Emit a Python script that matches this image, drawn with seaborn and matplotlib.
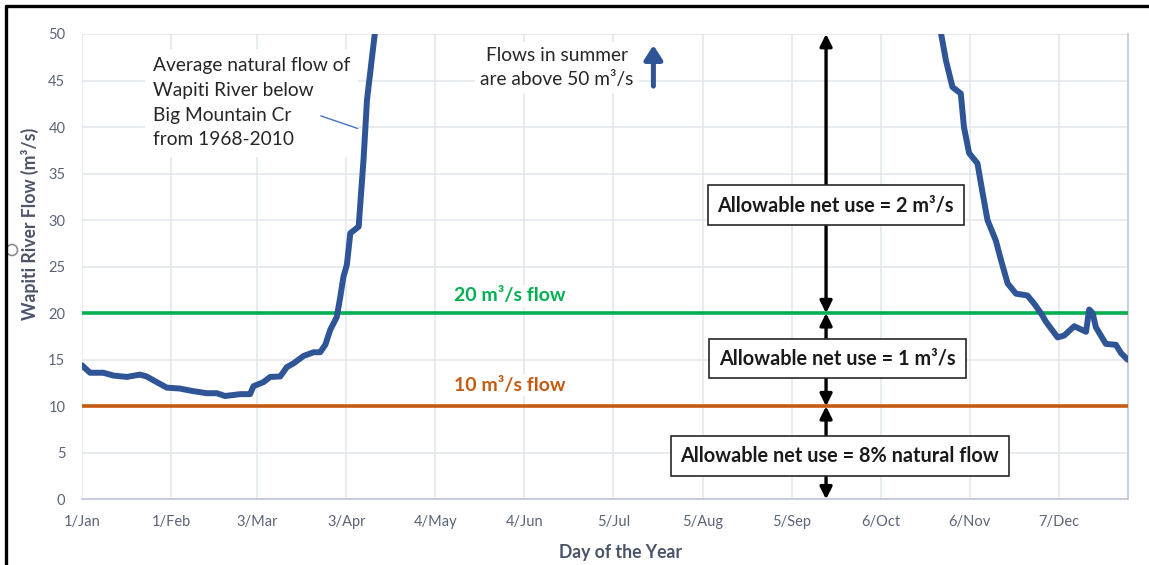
import matplotlib
matplotlib.use("Agg")
import matplotlib.pyplot as plt
from matplotlib.lines import Line2D
from matplotlib.patches import Ellipse
import seaborn as sns
import pandas as pd

# ---------------- data ----------------
day = [1, 3.8, 8.4, 11.9, 16.6, 21.2, 23.5, 25.8, 30.5, 35.1, 39.2, 44.4, 47.9, 50.8,
       56.1, 59.5, 60.7, 64.2, 66.5, 70, 72.3, 74.6, 78.1, 81.6, 83.9, 85.7, 87.4,
       89.7, 90.9, 92.0, 93.2, 94.4, 97.3, 99.0, 100.2, 101.3, 103.1,
       106, 120, 140, 160, 180, 200, 230, 260, 285, 298,
       300, 301.7, 304, 306.9, 308, 309.8, 312.7, 314.5, 316.2, 319.1, 320.9, 323.2,
       326.1, 330.1, 332.5, 334.8, 336.5, 340.6, 342.9, 346.4, 350.5, 351.6, 352.8,
       353.9, 357.4, 360.9, 362.7, 365]
flow = [14.4, 13.6, 13.6, 13.3, 13.15, 13.4, 13.2, 12.8, 12.0, 11.9, 11.65, 11.4, 11.4, 11.1,
        11.3, 11.3, 12.15, 12.6, 13.15, 13.2, 14.2, 14.6, 15.4, 15.8, 15.8, 16.6, 18.2,
        19.6, 21.75, 23.9, 25.2, 28.6, 29.3, 36.5, 42.9, 45.8, 50.5,
        58, 95, 150, 165, 130, 95, 70, 60, 57, 52,
        50.1, 47.2, 44.3, 43.6, 40.0, 37.2, 36.1, 32.9, 30.0, 27.8, 25.7, 23.2,
        22.1, 21.9, 21.0, 20.0, 19.1, 17.4, 17.6, 18.6, 18.0, 20.4, 20.0,
        18.5, 16.7, 16.6, 15.7, 15.0]

tick_days = [1, 32, 62, 93, 124, 155, 186, 217, 248, 279, 310, 341]
tick_labels = ["1/Jan", "1/Feb", "3/Mar", "3/Apr", "4/May", "4/Jun", "5/Jul",
               "5/Aug", "5/Sep", "6/Oct", "6/Nov", "7/Dec"]
y_ticks = [0, 5, 10, 15, 20, 25, 30, 35, 40, 45, 50]

threshold_high = 20
threshold_low = 10
box_labels = ["Allowable net use = 2 m³/s",
              "Allowable net use = 1 m³/s",
              "Allowable net use = 8% natural flow"]

# ---------------- style ----------------
sns.set_theme(style="whitegrid")
plt.rcParams["font.family"] = ["Lato", "DejaVu Sans"]

BLUE = "#2F5597"
GREEN = "#00B050"
ORANGE = "#C55A11"
GRID = "#E1E5EC"
TICK = "#5B6478"
LABEL = "#4A5468"

fig = plt.figure(figsize=(11.49, 5.65), dpi=100)
ax = fig.add_axes([82 / 1149, 1 - 499.3 / 565, (1127.7 - 82) / 1149, (499.3 - 34) / 565])

df = pd.DataFrame({"day": day, "flow": flow})
sns.lineplot(data=df, x="day", y="flow", ax=ax, color=BLUE, linewidth=4.3,
             zorder=5, solid_joinstyle="round")

ax.axhline(threshold_high, color=GREEN, lw=2.6, zorder=4)
ax.axhline(threshold_low, color=ORANGE, lw=2.6, zorder=4)

ax.set_xlim(1, 365)
ax.set_ylim(0, 50)
ax.set_xticks(tick_days)
ax.set_xticklabels(tick_labels)
ax.set_yticks(y_ticks)
ax.tick_params(axis="both", length=0, labelsize=10.5, colors=TICK)
ax.tick_params(axis="x", pad=11)
ax.tick_params(axis="y", pad=12)
ax.grid(True, color=GRID, lw=1.1)
for side in ["left", "top"]:
    ax.spines[side].set_visible(False)
for side in ["bottom", "right"]:
    ax.spines[side].set_visible(True)
    ax.spines[side].set_color("#C0C7D4")
    ax.spines[side].set_linewidth(1.2)

ax.set_xlabel("Day of the Year", fontsize=12.7, fontweight="bold", color=LABEL)
ax.set_ylabel("Wapiti River Flow (m³/s)", fontsize=12.7, fontweight="bold", color=LABEL)
ax.xaxis.set_label_coords(0.5145, -0.097)
ax.yaxis.set_label_coords(-0.041, 0.593)

# ---------------- annotations ----------------
ax.text(25.7, 42.6, "Average natural flow of\nWapiti River below\nBig Mountain Cr\nfrom 1968-2010",
        ha="left", va="center", fontsize=13.8, color="#262626", linespacing=1.55, zorder=6,
        bbox=dict(facecolor="white", edgecolor="none", pad=6))
ax.annotate("", xy=(97.9, 39.75), xytext=(83.2, 41.3),
            arrowprops=dict(arrowstyle="-", color="#4472C4", lw=1), zorder=6)

ax.text(166.3, 46.4, "Flows in summer\nare above 50 m³/s", ha="center", va="center",
        fontsize=13.8, color="#262626", linespacing=1.45, zorder=6,
        bbox=dict(facecolor="white", edgecolor="none", pad=4))
ax.annotate("", xy=(199.9, 48.8), xytext=(199.9, 44.4),
            arrowprops=dict(arrowstyle="-|>,head_length=0.7,head_width=0.45",
                            color=BLUE, lw=3.6, shrinkA=0, shrinkB=0), zorder=6)

ax.text(150, 21.85, "20 m³/s flow", ha="center", va="center", fontsize=14,
        fontweight="bold", color=GREEN, zorder=6,
        bbox=dict(facecolor="white", edgecolor="none", pad=2))
ax.text(150, 12.28, "10 m³/s flow", ha="center", va="center", fontsize=14,
        fontweight="bold", color=ORANGE, zorder=6,
        bbox=dict(facecolor="white", edgecolor="none", pad=2))

arrow_x = 260
for y0, y1 in [(50, threshold_high), (threshold_high, threshold_low), (threshold_low, 0)]:
    ax.annotate("", xy=(arrow_x, y1), xytext=(arrow_x, y0),
                arrowprops=dict(arrowstyle="<|-|>,head_length=0.6,head_width=0.3",
                                color="black", lw=2.4, shrinkA=0, shrinkB=0),
                zorder=7, annotation_clip=False)

box_pos = [(263.4, 31.6), (263.9, 15.13), (264.8, 4.63)]
for (bx, by), lab in zip(box_pos, box_labels):
    ax.text(bx, by, lab, ha="center", va="center", fontsize=14.3, fontweight="bold",
            color="#1a1a1a", zorder=8,
            bbox=dict(boxstyle="square,pad=0.5", facecolor="white",
                      edgecolor="#262626", lw=1.2))

# ---------------- frame ----------------
fig.add_artist(Line2D([6 / 1149, 6 / 1149], [0, 1 - 6 / 565], transform=fig.transFigure,
                      color="black", lw=2.4))
fig.add_artist(Line2D([6 / 1149, 1], [1 - 6 / 565, 1 - 6 / 565], transform=fig.transFigure,
                      color="black", lw=2.4))
fig.add_artist(Ellipse((12 / 1149, 1 - 250 / 565), 11 / 1149, 11 / 565,
                       transform=fig.transFigure, fill=False, edgecolor="#8c8c8c", lw=1.2))

fig.savefig("out.png", dpi=100)
